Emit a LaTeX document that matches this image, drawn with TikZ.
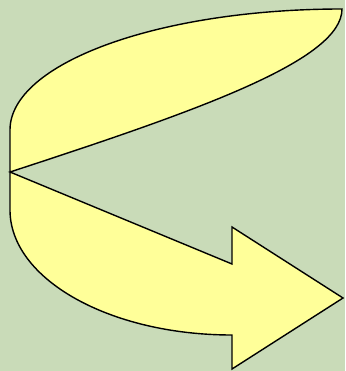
\documentclass[tikz,border=0pt]{standalone}
\definecolor{bg}{HTML}{C9DBB8}
\definecolor{fillY}{HTML}{FFFF99}
\begin{document}
\begin{tikzpicture}[x=1pt,y=-1pt,
  arrowbody/.style={draw=black,fill=fillY,line width=1.4pt,line join=miter}]
\fill[bg] (0,0) rectangle (345,371);
\useasboundingbox (0,0) rectangle (345,371);
\draw[arrowbody] (342,9) .. controls (158.6,9) and (10,63.2) .. (10,130)
  -- (10,210) .. controls (10,279) and (109.4,335) .. (232,335)
  -- (232,369) -- (343,298) -- (232,227) -- (232,264) -- (10,172)
  .. controls (200,110) and (342,60) .. (342,9) -- cycle;
\end{tikzpicture}
\end{document}
